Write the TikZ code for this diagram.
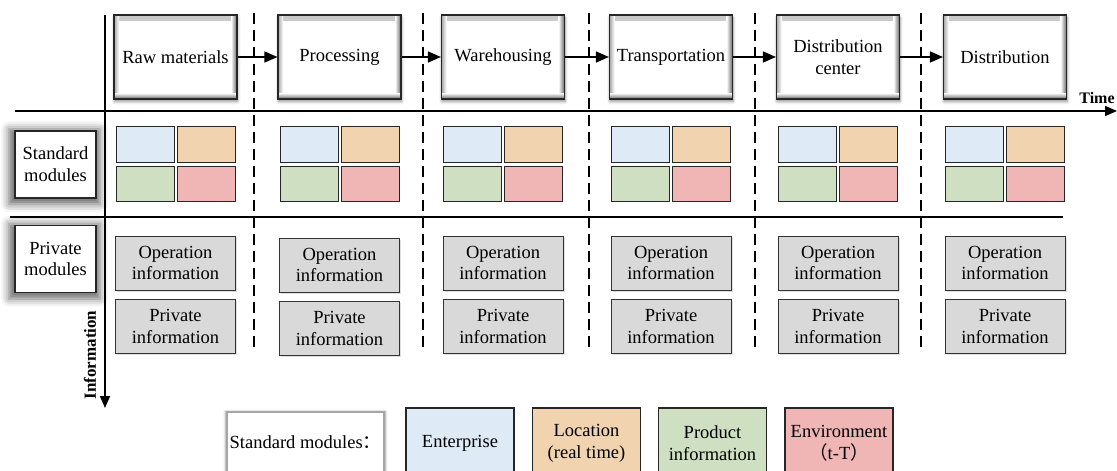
\documentclass[tikz,border=0pt]{standalone}
\usepackage{fontspec}
\setmainfont{Liberation Serif}
\newfontfamily\cjk{Noto Sans CJK SC}
\usetikzlibrary{arrows.meta,shadows,shadows.blur}
\definecolor{modblue}{RGB}{222,234,246}
\definecolor{modorange}{RGB}{241,211,176}
\definecolor{modgreen}{RGB}{206,223,194}
\definecolor{modred}{RGB}{240,182,182}
\definecolor{graybox}{RGB}{217,217,217}
\tikzset{
  txt/.style={font=\fontsize{18.5}{21.7}\selectfont, align=center, inner sep=0pt},
  stagebox/.style={txt, draw=black!85, line width=1.1pt, fill=white,
    minimum width=123pt, minimum height=84pt,
    path picture={
      \shade[top color=black!22, bottom color=white] ([yshift=-5pt]path picture bounding box.north west) rectangle (path picture bounding box.north east);
      \shade[left color=black!35, right color=white] (path picture bounding box.south west) rectangle ([xshift=5pt]path picture bounding box.north west);
      \shade[left color=white, right color=black!60] ([xshift=-6pt]path picture bounding box.south east) rectangle (path picture bounding box.north east);
      \shade[top color=white, bottom color=black!60] (path picture bounding box.south west) rectangle ([yshift=6pt]path picture bounding box.south east);
    },
    blur shadow={shadow xshift=0.5pt, shadow yshift=-2.5pt, shadow blur radius=3pt, shadow opacity=45}},
  cell/.style={draw=black!85, line width=1pt, minimum width=58pt, minimum height=35.5pt, inner sep=0pt},
  infobox/.style={txt, draw=black!80, line width=1pt, fill=graybox,
    minimum width=120pt, minimum height=54pt,
    drop shadow={shadow xshift=1.5pt, shadow yshift=-1.5pt, opacity=0.25}},
  labelbox/.style={txt, draw=black!85, line width=1.2pt, fill=white,
    minimum width=81pt, minimum height=67pt,
    blur shadow={shadow xshift=-1pt, shadow yshift=-2pt, shadow blur radius=7pt, shadow scale=1.12, shadow opacity=60}},
  legbox/.style={txt, draw=black!85, line width=1.2pt, minimum width=108pt, minimum height=70pt},
  axisline/.style={line width=1.6pt, black},
  sepline/.style={line width=1.5pt, black, dash pattern=on 11pt off 6pt},
  flow/.style={line width=1.5pt, -{Triangle[length=13pt,width=11pt]}},
}
\begin{document}
\begin{tikzpicture}[x=1pt,y=-1pt]
\useasboundingbox (0,0) rectangle (1117,471);
\clip (0,0) rectangle (1117,471);

% left labels
\node[labelbox] (stdlab) at (55.5,164.5) {Standard\\modules};
\node[labelbox] (privlab) at (55.5,259) {Private\\modules};

% axes and separators
\coordinate (tstart) at (15,111);
\coordinate (tend) at (1117,111);
\coordinate (istart) at (105,15);
\coordinate (iend) at (105,408);
\coordinate (hsa) at (10,217);
\coordinate (hsb) at (1063,217);
\draw[axisline, -{Triangle[length=12pt,width=10pt]}] (tstart) -- (tend);
\draw[axisline, -{Triangle[length=12pt,width=10pt]}] (istart) -- (iend);
\draw[axisline, line width=1.5pt] (hsa) -- (hsb);
\foreach \k/\x in {1/254,2/423,3/589,4/755,5/921}{
  \coordinate (da\k) at (\x,13);
  \coordinate (db\k) at (\x,352);
  \draw[sepline] (da\k) -- (db\k);
}
\node[font=\bfseries\fontsize{16}{18}\selectfont, anchor=base, inner sep=0pt] (timelab) at (1097,103) {Time};
\node[font=\bfseries\fontsize{17}{19}\selectfont, rotate=90, inner sep=0pt] (infolab) at (90,355) {Information};

% stages
\node[stagebox] (s1) at (175.5,57) {Raw materials};
\node[stagebox] (s2) at (339.5,57) {Processing};
\node[stagebox] (s3) at (503,57) {Warehousing};
\node[stagebox] (s4) at (671,57) {Transportation};
\node[stagebox] (s5) at (838,57) {Distribution\\center};
\node[stagebox] (s6) at (1005,57) {Distribution};
\foreach \a/\b in {s1/s2,s2/s3,s3/s4,s4/s5,s5/s6}
  \draw[flow] (\a.east) -- (\b.west);

% standard module cells and private info boxes
\foreach \i/\cx/\dy in {1/175.5/0,2/339.5/2,3/503/0,4/671/0,5/838/0,6/1005/0}{
  \node[cell, fill=modblue] (cb\i) at (\cx-30.5,144.5) {};
  \node[cell, fill=modorange] (co\i) at (\cx+30.5,144.5) {};
  \node[cell, fill=modgreen] (cg\i) at (\cx-30.5,184) {};
  \node[cell, fill=modred] (cr\i) at (\cx+30.5,184) {};
  \node[infobox] (op\i) at (\cx,263+\dy) {Operation\\information};
  \node[infobox] (pi\i) at (\cx,326.5+\dy) {Private\\information};
}

% legend
\node[txt, draw=black!35, line width=2.2pt, fill=white, minimum width=157pt, minimum height=60pt,
  blur shadow={shadow xshift=0pt, shadow yshift=0pt, shadow blur radius=2pt, shadow scale=1.02, shadow opacity=40}]
  (leglab) at (305.5,442) {Standard modules{\cjk ：}};
\node[legbox, fill=modblue] (lent) at (460,443) {Enterprise};
\node[legbox, fill=modorange] (lloc) at (586.5,443) {Location\\(real time)};
\node[legbox, fill=modgreen] (lprod) at (712.5,443) {Product\\information};
\node[legbox, fill=modred] (lenv) at (839,443) {Environment\\{\cjk （}t-T{\cjk ）}};
\end{tikzpicture}
\end{document}
